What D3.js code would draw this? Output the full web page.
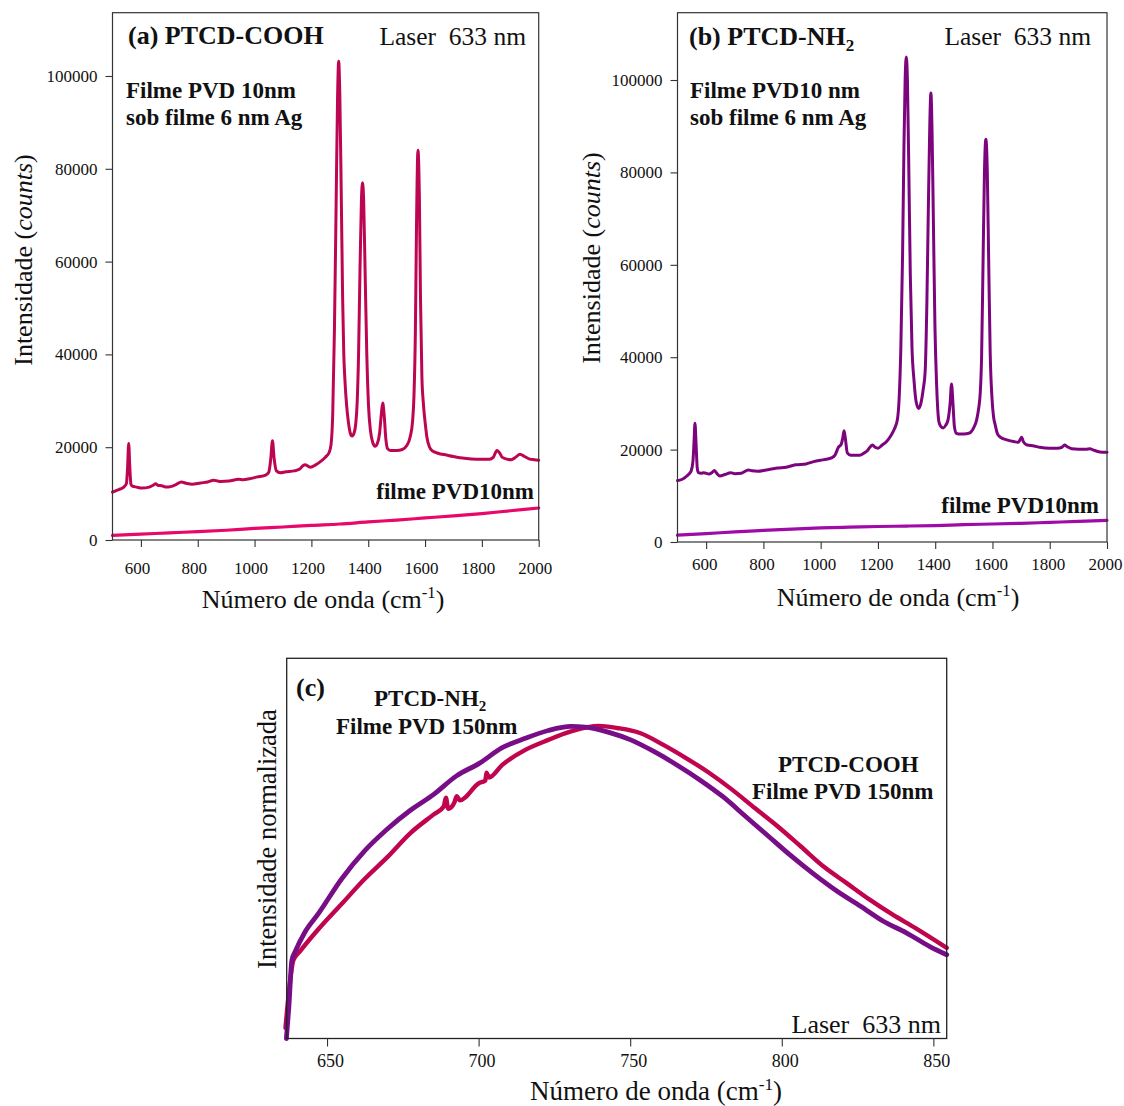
<!DOCTYPE html>
<html>
<head>
<meta charset="utf-8">
<script src="https://cdn.jsdelivr.net/npm/d3@7"></script>
<style>
  body { margin: 0; background: #fff; }
  svg { display: block; }
  text { font-family: "Liberation Serif", "Times New Roman", serif; fill: #111; }
</style>
</head>
<body>
<script>
// ---------- tick labels ----------
const ramanXTicks = [600, 800, 1000, 1200, 1400, 1600, 1800, 2000];
const ramanYTicks = [0, 20000, 40000, 60000, 80000, 100000];
const plXTicks = [650, 700, 750, 800, 850];

// ---------- (a) PTCD-COOH, SERS spectrum (10 nm PVD under 6 nm Ag) ----------
const coohSers = [
  [500,10300],[515,10700],[528,11000],[541,11500],[549,12200],[553,15500],[557,20800],[561,15500],
  [565,12000],[570,11600],[585,11400],[603,11200],[629,11400],[643,11800],[652,12100],[660,11800],
  [673,11700],[690,11400],[704,11500],[725,12000],[742,12500],[760,12200],[780,12000],[810,12300],
  [835,12500],[856,12900],[870,12700],[881,12600],[910,12700],[944,13100],[960,13000],[982,13200],
  [1010,13600],[1039,14000],[1050,14600],[1057,17500],[1063,21400],[1069,17500],[1077,14900],
  [1090,14500],[1110,14700],[1140,14900],[1159,15300],[1170,16000],[1178,16200],[1188,15900],
  [1197,15700],[1215,16200],[1234,17000],[1250,17900],[1262,18800],[1269,20500],[1275,27000],
  [1281,45000],[1287,72000],[1292,95000],[1296,103200],[1300,96000],[1305,75000],[1310,52000],
  [1314,40000],[1318,34500],[1324,29000],[1330,25500],[1337,23000],[1343,22400],[1350,23000],
  [1356,25000],[1361,29500],[1366,40000],[1371,58000],[1376,73000],[1380,77000],[1384,73000],
  [1389,58000],[1395,40000],[1401,29000],[1408,23500],[1416,21000],[1424,20200],[1432,20800],
  [1440,23000],[1446,27000],[1451,29500],[1456,27000],[1462,21800],[1468,19700],[1478,19300],
  [1500,19300],[1520,19500],[1535,20300],[1548,22300],[1556,25500],[1561,31000],[1566,45000],
  [1570,68000],[1575,84000],[1580,74000],[1584,52000],[1589,35000],[1594,29500],[1600,25500],
  [1607,22000],[1616,20000],[1626,19200],[1645,18700],[1676,18300],[1700,18000],[1739,17600],
  [1780,17400],[1827,17400],[1840,17800],[1853,19300],[1862,18800],[1872,17800],[1890,17400],
  [1903,17300],[1920,17900],[1934,18500],[1950,18000],[1966,17500],[1985,17300],[2000,17200]
];
// (a) PTCD-COOH, bare 10 nm PVD film
const coohFilm = [
  [500,1000],[600,1250],[700,1550],[800,1800],[900,2100],[1000,2500],[1100,2800],[1200,3150],
  [1300,3450],[1400,3900],[1500,4300],[1600,4750],[1700,5200],[1800,5700],[1900,6300],[2000,6900]
];

// ---------- (b) PTCD-NH2, SERS spectrum ----------
const nh2Sers = [
  [500,13300],[508,13400],[520,13700],[529,14100],[540,14700],[548,15400],[554,17500],[558,22000],
  [561,25700],[565,21000],[569,16000],[573,15000],[582,14900],[592,15000],[610,14700],[620,15000],
  [629,15500],[638,14800],[648,14300],[665,14600],[686,15000],[700,14800],[723,14900],[748,15600],
  [760,15400],[780,15300],[810,15600],[849,16000],[880,16200],[912,16700],[949,16900],[975,17400],
  [999,17700],[1020,17900],[1037,18200],[1050,18800],[1062,20500],[1072,21200],[1077,22500],
  [1082,24100],[1087,22000],[1093,19300],[1105,18800],[1137,18800],[1150,19200],[1162,19700],
  [1172,20500],[1181,21000],[1190,20500],[1200,20300],[1215,21000],[1231,21800],[1245,23000],
  [1257,24400],[1268,26500],[1274,31000],[1280,42000],[1286,62000],[1291,86000],[1295,100000],
  [1299,105000],[1303,100000],[1308,80000],[1313,58000],[1319,42000],[1326,35000],[1333,30500],
  [1342,28900],[1350,30000],[1358,33000],[1365,37000],[1371,52000],[1376,72000],[1381,90000],
  [1385,97200],[1389,89000],[1394,68000],[1399,47000],[1405,34000],[1413,26000],[1420,25000],
  [1428,24700],[1437,25300],[1445,26500],[1452,30000],[1457,34200],[1462,30000],[1467,25000],
  [1474,23500],[1482,23400],[1500,23400],[1520,23600],[1535,24800],[1545,26500],[1552,29000],
  [1557,32000],[1562,40000],[1567,60000],[1572,80000],[1577,87200],[1582,80000],[1587,60000],
  [1592,41000],[1598,31500],[1604,27000],[1609,25500],[1617,23500],[1627,22700],[1650,22100],
  [1677,21700],[1690,21600],[1697,22200],[1702,22700],[1708,21700],[1721,21000],[1745,20800],
  [1765,20500],[1800,20300],[1827,20300],[1842,20500],[1852,21000],[1862,20600],[1877,20200],
  [1900,20100],[1927,20100],[1940,20200],[1953,19900],[1975,19500],[2000,19400]
];
// (b) PTCD-NH2, bare 10 nm PVD film
const nh2Film = [
  [500,1500],[600,1800],[700,2200],[800,2500],[900,2800],[1000,3050],[1100,3200],[1200,3350],
  [1300,3450],[1400,3550],[1500,3750],[1600,3900],[1700,4050],[1800,4250],[1900,4450],[2000,4700]
];

// ---------- (c) normalised emission of 150 nm PVD films ----------
const plNh2 = [
  [636.6,0.00],[637.4,0.10],[638.4,0.25],[639.6,0.28],[642.7,0.34],[647.2,0.40],[654.8,0.51],
  [662.4,0.60],[669.9,0.67],[677.5,0.73],[685.1,0.78],[692.7,0.84],[700.2,0.88],[707.8,0.93],
  [715.4,0.96],[723.0,0.985],[730.5,0.998],[735.1,0.996],[742.7,0.98],[750.2,0.955],[757.8,0.918],
  [765.4,0.875],[773.0,0.827],[780.5,0.774],[788.1,0.71],[795.7,0.646],[803.2,0.583],[810.8,0.524],
  [818.4,0.47],[826.0,0.423],[833.5,0.375],[841.1,0.338],[848.7,0.295],[854.4,0.268]
];
const plCooh = [
  [636.3,0.034],[637.4,0.146],[638.9,0.25],[641.2,0.28],[647.2,0.35],[654.8,0.43],[662.4,0.51],
  [669.9,0.58],[677.5,0.657],[685.1,0.716],[688.5,0.742],[689.2,0.77],[690.0,0.735],[692.0,0.755],
  [692.8,0.775],[693.8,0.762],[700.2,0.817],[702.2,0.825],[702.6,0.85],[703.4,0.835],[707.8,0.875],
  [715.4,0.923],[723.0,0.955],[730.5,0.982],[739.6,1.0],[745.7,0.993],[753.2,0.977],[760.8,0.94],
  [768.4,0.897],[776.0,0.85],[783.6,0.796],[791.1,0.737],[798.7,0.678],[806.3,0.614],[813.8,0.55],
  [821.4,0.497],[829.0,0.444],[836.6,0.396],[844.1,0.353],[854.4,0.29]
];

// ---------- drawing ----------
const W = 1124, H = 1106;
const FONT = '"Liberation Serif", "Times New Roman", serif';
const svg = d3.select("body").append("svg").attr("width", W).attr("height", H);
svg.append("rect").attr("width", W).attr("height", H).attr("fill", "#fff");

function scales(box, xDomain, yDomain) {
  return {
    box,
    x: d3.scaleLinear().domain(xDomain).range([box.left, box.right]),
    y: d3.scaleLinear().domain(yDomain).range([box.bottom, box.top])
  };
}

function frame(sc, color, width) {
  const b = sc.box;
  svg.append("rect")
    .attr("x", b.left).attr("y", b.top)
    .attr("width", b.right - b.left).attr("height", b.bottom - b.top)
    .attr("fill", "none").attr("stroke", color).attr("stroke-width", width);
}

function styleAxis(g, size) {
  g.attr("font-size", size).attr("font-family", FONT);
  g.select(".domain").remove();
  g.selectAll(".tick line").attr("stroke", "#333").attr("stroke-width", 1.1);
  g.selectAll(".tick text").attr("fill", "#111").attr("font-family", FONT);
}

function xAxis(sc, ticks, size, tickSize, pad, shift) {
  svg.append("g")
    .attr("transform", `translate(0,${sc.box.bottom})`)
    .call(d3.axisBottom(sc.x).tickValues(ticks).tickSize(tickSize).tickPadding(pad).tickFormat(d3.format("d")))
    .call(g => styleAxis(g, size))
    .call(g => g.selectAll(".tick text").attr("dx", shift || 0));
}

function yAxis(sc, ticks, size) {
  svg.append("g")
    .attr("transform", `translate(${sc.box.left},0)`)
    .call(d3.axisLeft(sc.y).tickValues(ticks).tickSize(7).tickPadding(8).tickFormat(d3.format("d")))
    .call(g => styleAxis(g, size));
}

function curve(sc, data, color, width) {
  svg.append("path")
    .datum(data)
    .attr("fill", "none")
    .attr("stroke", color)
    .attr("stroke-width", width)
    .attr("stroke-linejoin", "round")
    .attr("stroke-linecap", "round")
    .attr("d", d3.line().x(d => sc.x(d[0])).y(d => sc.y(d[1])).curve(d3.curveMonotoneX));
}

function label(x, y, parts, opts = {}) {
  const t = svg.append("text")
    .attr("x", x).attr("y", y)
    .attr("font-size", opts.size || 23)
    .attr("font-weight", opts.bold ? "bold" : "normal")
    .attr("text-anchor", opts.anchor || "start");
  if (opts.rotate) t.attr("transform", `rotate(-90,${x},${y})`);
  parts.forEach(p => {
    const s = t.append("tspan").text(p.t);
    if (p.italic) s.attr("font-style", "italic");
    if (p.size) s.attr("font-size", p.size);
    if (p.dy) s.attr("dy", p.dy);
  });
  return t;
}

function xTitle(cx, y, size) {
  label(cx, y, [
    { t: "Número de onda (cm" },
    { t: "-1", size: size * 0.64, dy: -size * 0.38 },
    { t: ")", dy: size * 0.38 }
  ], { size, anchor: "middle" });
}

// ----- panel (a) -----
const A = scales({ left: 112.5, right: 538.7, top: 12.7, bottom: 540 }, [500, 2000], [0, 113640]);
curve(A, coohFilm, "#e8086a", 3.2);
curve(A, coohSers, "#bd0651", 3);
frame(A, "#333", 1.2);
xAxis(A, ramanXTicks, 17, 7, 15, -4);
yAxis(A, ramanYTicks, 17);
label(128, 44, [{ t: "(a) PTCD-COOH" }], { size: 26, bold: true });
label(526, 45, [{ t: "Laser\u00a0\u00a0633 nm" }], { size: 25.5, anchor: "end" });
label(126, 98, [{ t: "Filme PVD 10nm" }], { size: 23, bold: true });
label(126, 125, [{ t: "sob filme 6 nm Ag" }], { size: 23, bold: true });
label(534, 499, [{ t: "filme PVD10nm" }], { size: 23, bold: true, anchor: "end" });
label(32, 260, [{ t: "Intensidade (" }, { t: "counts", italic: true }, { t: ")" }], { size: 26, anchor: "middle", rotate: true });
xTitle(323, 608, 26);

// ----- panel (b) -----
const B = scales({ left: 677.5, right: 1107, top: 12.7, bottom: 542 }, [500, 2000], [0, 114570]);
curve(B, nh2Film, "#a00aa6", 3.2);
curve(B, nh2Sers, "#7c057e", 3);
frame(B, "#333", 1.2);
xAxis(B, ramanXTicks, 17, 7, 9, -2);
yAxis(B, ramanYTicks, 17);
label(689, 45, [{ t: "(b) PTCD-NH" }, { t: "2", size: 17, dy: 6 }], { size: 26, bold: true });
label(1091, 45, [{ t: "Laser\u00a0\u00a0633 nm" }], { size: 25.5, anchor: "end" });
label(690, 98, [{ t: "Filme PVD10 nm" }], { size: 23, bold: true });
label(690, 125, [{ t: "sob filme 6 nm Ag" }], { size: 23, bold: true });
label(1099, 513, [{ t: "filme PVD10nm" }], { size: 23, bold: true, anchor: "end" });
label(600, 258, [{ t: "Intensidade (" }, { t: "counts", italic: true }, { t: ")" }], { size: 26, anchor: "middle", rotate: true });
xTitle(898, 606, 26);

// ----- panel (c) -----
const C = scales({ left: 286.7, right: 946.7, top: 658.3, bottom: 1038.5 }, [636.7, 854.4], [0, 1.216]);
curve(C, plCooh, "#c0044e", 4.4);
curve(C, plNh2, "#770e88", 4.8);
frame(C, "#222", 1.3);
xAxis(C, plXTicks, 18, 8, 8, 3);
label(296, 696, [{ t: "(c)" }], { size: 26, bold: true });
label(374, 706, [{ t: "PTCD-NH" }, { t: "2", size: 15, dy: 5 }], { size: 23, bold: true });
label(336, 734, [{ t: "Filme PVD 150nm" }], { size: 23, bold: true });
label(778, 772, [{ t: "PTCD-COOH" }], { size: 23, bold: true });
label(752, 799, [{ t: "Filme PVD 150nm" }], { size: 23, bold: true });
label(941, 1033, [{ t: "Laser\u00a0\u00a0633 nm" }], { size: 26, anchor: "end" });
label(276, 839, [{ t: "Intensidade normalizada" }], { size: 26.5, anchor: "middle", rotate: true });
xTitle(656, 1100, 27);
</script>
</body>
</html>
